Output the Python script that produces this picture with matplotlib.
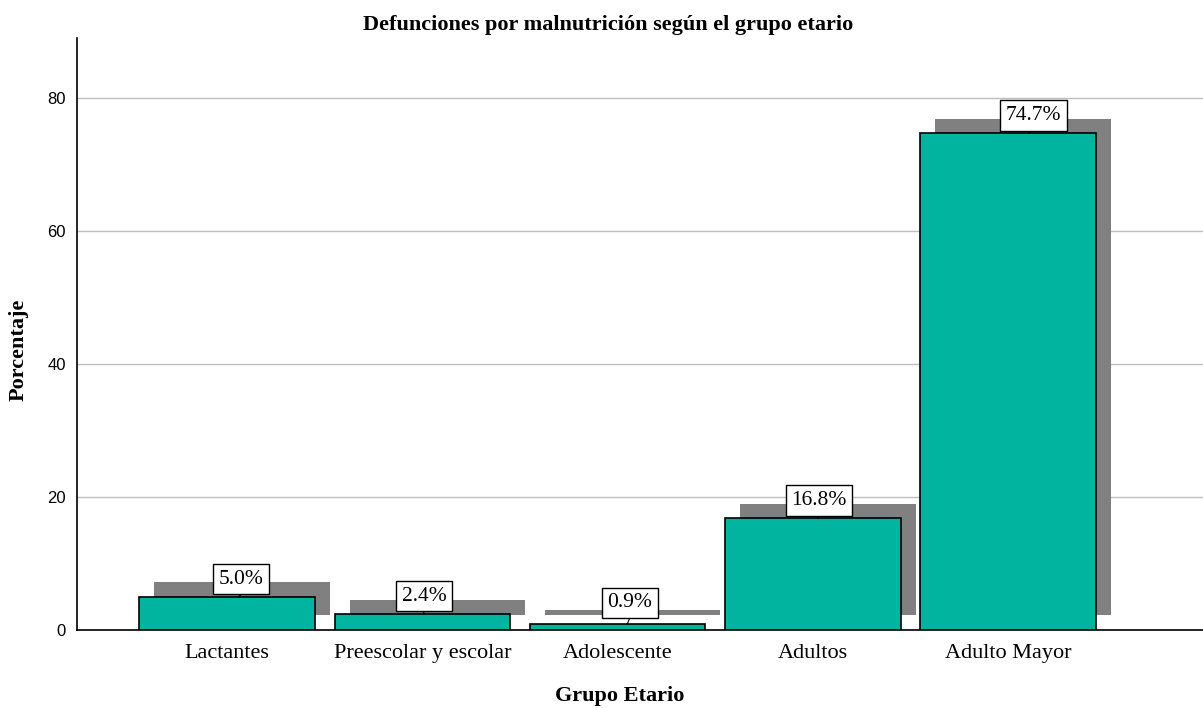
import numpy as np
import matplotlib
matplotlib.use("Agg")
import matplotlib.pyplot as plt

grupos = ["Lactantes", "Preescolar y escolar", "Adolescente", "Adultos", "Adulto Mayor"]
porcentajes = [5.0, 2.4, 0.9, 16.8, 74.7]
etiquetas = ["5.0%", "2.4%", "0.9%", "16.8%", "74.7%"]

# desplazamiento horizontal de las etiquetas (como las coloca SPSS)
desp_etiqueta = [0.072, 0.008, 0.062, 0.033, 0.133]

fig = plt.figure(figsize=(12.03, 7.08), dpi=100)
ax = fig.add_axes([0.064, 0.110, 0.936, 0.836])

x = np.arange(len(grupos))
ancho = 0.9
# sombra desplazada (estilo SPSS)
dx, dy = 0.077, 2.2
ax.bar(x + dx, porcentajes, width=ancho, bottom=dy, color="#808080", zorder=2)
ax.bar(x, porcentajes, width=ancho, color="#00B4A0", edgecolor="black", linewidth=1.2, zorder=3)

for xi, v, t, d in zip(x, porcentajes, etiquetas, desp_etiqueta):
    base = max(v + 0.4, 1.8)
    # pequeña línea guía entre la etiqueta y la barra
    ax.plot([xi + d, xi + d * 0.8], [base, v], color="black", lw=0.8, zorder=4)
    ax.text(xi + d, base + 0.85, t, ha="center", va="bottom", fontsize=15.5,
            family="Liberation Serif", zorder=5,
            bbox=dict(boxstyle="square,pad=0.26", fc="white", ec="black", lw=1.0))

ax.set_xlim(-0.77, 5.0)
ax.set_ylim(0, 89)
ax.set_yticks([0, 20, 40, 60, 80])
ax.yaxis.grid(True, color="#bebebe", linewidth=1.0, zorder=0)
ax.set_axisbelow(True)
ax.set_xticks(x)
ax.set_xticklabels(grupos, family="Liberation Serif", fontsize=16)
ax.tick_params(axis="x", length=0, pad=10)
ax.tick_params(axis="y", length=0, pad=8, labelsize=12)
for lbl in ax.get_yticklabels():
    lbl.set_family("Liberation Sans")

ax.spines["top"].set_visible(False)
ax.spines["right"].set_visible(False)
ax.spines["left"].set_linewidth(1.2)
ax.spines["bottom"].set_linewidth(1.2)

ax.set_title("Defunciones por malnutrición según el grupo etario", family="Liberation Serif",
             fontsize=16, fontweight="bold", pad=6, x=0.472)
ax.set_xlabel("Grupo Etario", family="Liberation Serif", fontsize=16, fontweight="bold")
ax.xaxis.set_label_coords(0.482, -0.095)
ax.set_ylabel("Porcentaje", family="Liberation Serif", fontsize=16, fontweight="bold")
ax.yaxis.set_label_coords(-0.043, 0.473)

fig.savefig("out.png", dpi=100)
